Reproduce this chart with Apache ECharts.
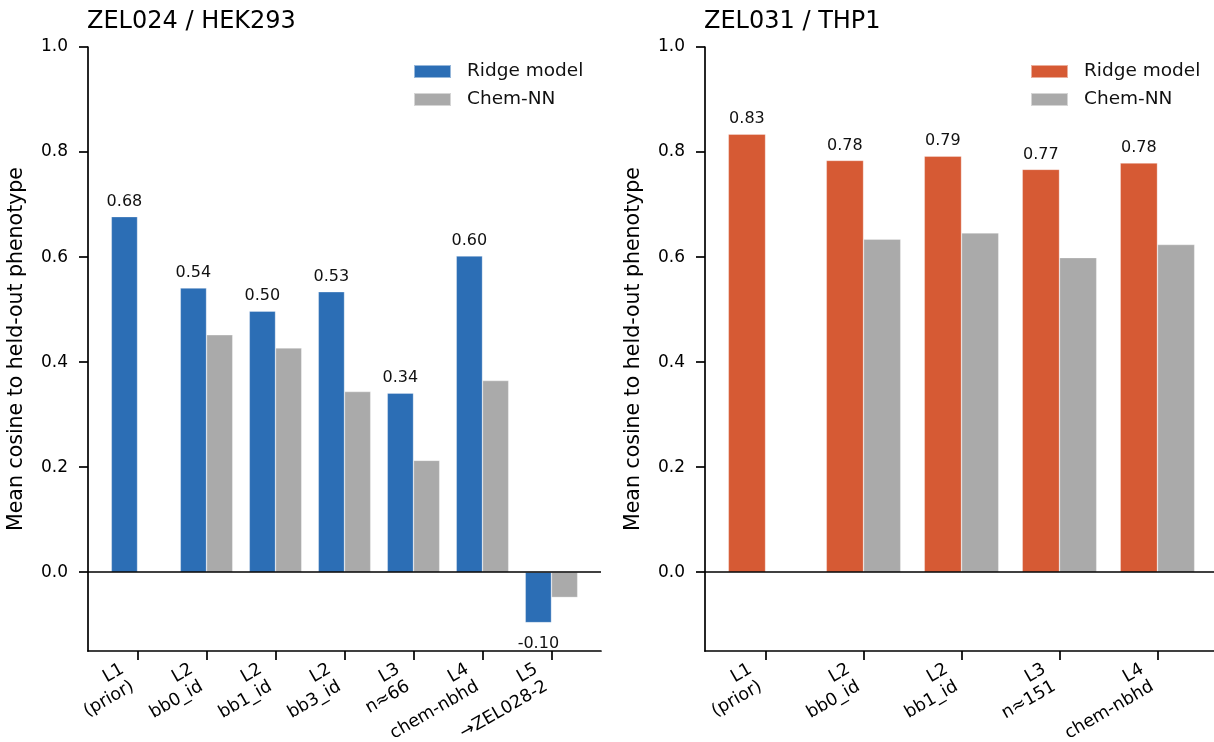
<!DOCTYPE html>
<html>
<head>
<meta charset="utf-8">
<script src="https://cdn.jsdelivr.net/npm/echarts@6/dist/echarts.min.js"></script>
<style>
html,body{margin:0;padding:0;background:#fff;}
#c{width:1214px;height:742px;}
</style>
</head>
<body>
<div id="c"></div>
<script>
// ---- data ----
const leftTitle = 'ZEL024 / HEK293';
const rightTitle = 'ZEL031 / THP1';
const leftCategories = ['L1\n(prior)', 'L2\nbb0_id', 'L2\nbb1_id', 'L2\nbb3_id', 'L3\nn≈66', 'L4\nchem-nbhd', 'L5\n→ZEL028-2'];
const leftRidge = [0.677, 0.541, 0.497, 0.534, 0.341, 0.602, -0.096];
const leftChemNN = [null, 0.452, 0.427, 0.344, 0.213, 0.365, -0.048];
const rightCategories = ['L1\n(prior)', 'L2\nbb0_id', 'L2\nbb1_id', 'L3\nn≈151', 'L4\nchem-nbhd'];
const rightRidge = [0.834, 0.784, 0.792, 0.767, 0.779];
const rightChemNN = [null, 0.634, 0.646, 0.599, 0.624];
const yTicks = [0, 0.2, 0.4, 0.6, 0.8, 1.0];
const yLabel = 'Mean cosine to held-out phenotype';
const seriesNames = ['Ridge model', 'Chem-NN'];

// ---- styles ----
const FONT = 'DejaVu Sans';
const BLUE = '#2c6eb5';
const ORANGE = '#d65a34';
const GREY = '#aaaaaa';
const BLACK = '#000';

const chart = echarts.init(document.getElementById('c'), null, {renderer: 'canvas'});

function idx(n) { return Array.from({length: n}, (_, i) => i); }
// label order: evens first then odds, so neighbouring first/last labels are never adjacent
function labelOrder(n) { const a = idx(n); return a.filter(i => i % 2 === 0).concat(a.filter(i => i % 2 === 1)); }

function makeXAxis(gridIndex, cats) {
  const n = cats.length;
  const lo = -0.38, hi = (n - 1) + 0.38;
  const m = 0.05 * (hi - lo);
  return {
    type: 'value', gridIndex,
    min: lo - m, max: hi + m,
    axisLine: {show: true, onZero: false, lineStyle: {color: BLACK, width: 1.7}},
    axisTick: {show: true, length: 9, lineStyle: {color: BLACK, width: 1.7}, customValues: idx(n)},
    axisLabel: {
      show: true, customValues: labelOrder(n), rotate: 30, align: 'right', verticalAlign: 'bottom',
      margin: 43, fontFamily: FONT, fontSize: 17.5, color: BLACK, lineHeight: 20,
      hideOverlap: false,
      formatter: v => cats[Math.round(v)]
    },
    splitLine: {show: false}
  };
}

function makeYAxis(gridIndex) {
  return {
    type: 'value', gridIndex, min: -0.15, max: 1.0,
    name: yLabel, nameLocation: 'middle', nameGap: 61,
    nameTextStyle: {fontFamily: FONT, fontSize: 20.5, color: BLACK},
    axisLine: {show: true, onZero: false, lineStyle: {color: BLACK, width: 1.7}},
    axisTick: {show: true, length: 9, lineStyle: {color: BLACK, width: 1.7}, customValues: yTicks},
    axisLabel: {show: true, customValues: yTicks, margin: 20, fontFamily: FONT, fontSize: 17, color: BLACK,
      formatter: v => v.toFixed(1)},
    splitLine: {show: false}
  };
}

function ridgeSeries(gi, vals, color) {
  return {
    name: seriesNames[0], type: 'bar', xAxisIndex: gi, yAxisIndex: gi,
    barWidth: '38%', barGap: '0%',
    itemStyle: {color, borderColor: 'rgba(255,255,255,0.5)', borderWidth: 0.6},
    label: {show: true, position: 'top', distance: 7, fontFamily: FONT, fontSize: 16, color: '#111',
      formatter: p => p.value[1].toFixed(2)},
    data: vals.map((v, i) => v < 0
      ? {value: [i, v], label: {position: 'bottom', distance: 13}}
      : {value: [i, v]}),
    markLine: {silent: true, symbol: 'none', label: {show: false},
      lineStyle: {color: BLACK, width: 1.6, type: 'solid'},
      emphasis: {disabled: true},
      data: [{yAxis: 0}]},
    animation: false
  };
}
function chemSeries(gi, vals) {
  return {
    name: seriesNames[1], type: 'bar', xAxisIndex: gi, yAxisIndex: gi,
    barWidth: '38%', barGap: '0%',
    itemStyle: {color: GREY, borderColor: 'rgba(255,255,255,0.5)', borderWidth: 0.6},
    data: vals.map((v, i) => [i, v]),
    animation: false
  };
}

function makeLegend(left, color) {
  return {
    left, top: 62, orient: 'vertical', padding: 0, itemGap: 9,
    itemWidth: 37, itemHeight: 13, icon: 'rect', selectedMode: false,
    textStyle: {fontFamily: FONT, fontSize: 18.5, color: '#111', padding: [0, 0, 0, 11]},
    data: [{name: seriesNames[0], itemStyle: {color}}, {name: seriesNames[1], itemStyle: {color: GREY}}]
  };
}

const option = {
  animation: false,
  backgroundColor: '#fff',
  title: [
    {text: leftTitle, left: 87, top: 10, padding: 0, textStyle: {fontFamily: FONT, fontSize: 24, fontWeight: 'normal', color: BLACK}},
    {text: rightTitle, left: 704, top: 10, padding: 0, textStyle: {fontFamily: FONT, fontSize: 24, fontWeight: 'normal', color: BLACK}}
  ],
  legend: [makeLegend(413, BLUE), makeLegend(1030, ORANGE)],
  grid: [
    {left: 88, top: 47, width: 513, height: 604, containLabel: false, outerBoundsMode: 'none'},
    {left: 705, top: 47, width: 513, height: 604, containLabel: false, outerBoundsMode: 'none'}
  ],
  xAxis: [makeXAxis(0, leftCategories), makeXAxis(1, rightCategories)],
  yAxis: [makeYAxis(0), makeYAxis(1)],
  series: [
    ridgeSeries(0, leftRidge, BLUE), chemSeries(0, leftChemNN),
    ridgeSeries(1, rightRidge, ORANGE), chemSeries(1, rightChemNN)
  ]
};
chart.setOption(option);
</script>
</body>
</html>
